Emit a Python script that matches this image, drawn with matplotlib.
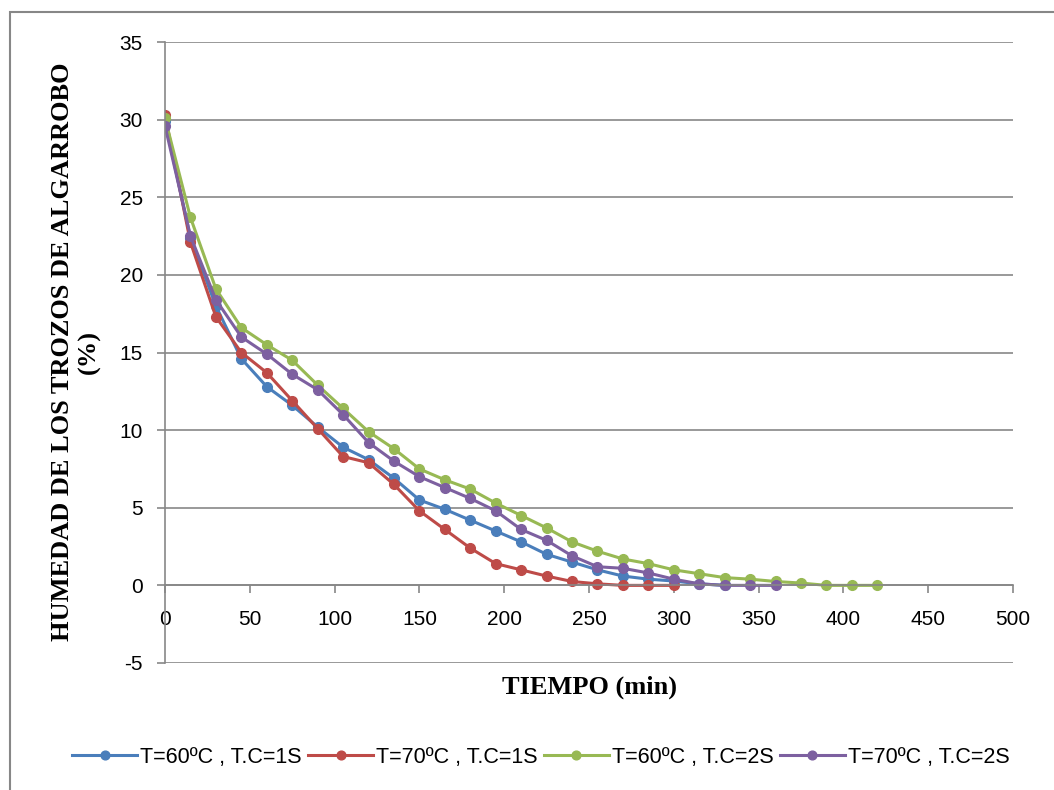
import numpy as np
import matplotlib.pyplot as plt
from matplotlib.patches import Rectangle

plt.rcParams['axes.unicode_minus'] = False

# tiempo (min), every 15 min
t_blue = np.arange(0, 331, 15)
blue = [29.9, 22.4, 18.0, 14.6, 12.8, 11.6, 10.2, 8.9, 8.1, 6.9, 5.5, 4.9,
        4.2, 3.5, 2.8, 2.0, 1.5, 1.0, 0.6, 0.4, 0.28, 0.1, 0.0]
t_red = np.arange(0, 301, 15)
red = [30.3, 22.1, 17.3, 15.0, 13.7, 11.9, 10.1, 8.3, 7.9, 6.5, 4.8, 3.6,
       2.4, 1.4, 1.0, 0.6, 0.25, 0.1, 0.0, 0.0, 0.0]
t_green = np.arange(0, 421, 15)
green = [30.1, 23.7, 19.1, 16.6, 15.5, 14.5, 12.9, 11.4, 9.9, 8.8, 7.5, 6.8,
         6.2, 5.3, 4.5, 3.7, 2.8, 2.2, 1.7, 1.4, 1.0, 0.75, 0.5, 0.4, 0.25,
         0.15, 0.0, 0.0, 0.0]
t_purple = np.arange(0, 361, 15)
purple = [29.6, 22.5, 18.4, 16.0, 14.9, 13.6, 12.6, 11.0, 9.2, 8.0, 7.0, 6.3,
          5.6, 4.8, 3.6, 2.9, 1.9, 1.2, 1.1, 0.8, 0.4, 0.1, 0.0, 0.0, 0.0]

series = [
    (t_blue, blue, '#4a7ebb', 'T=60ºC , T.C=1S'),
    (t_red, red, '#be4b48', 'T=70ºC , T.C=1S'),
    (t_green, green, '#98b954', 'T=60ºC , T.C=2S'),
    (t_purple, purple, '#7d60a0', 'T=70ºC , T.C=2S'),
]

fig = plt.figure(figsize=(10.54, 7.9), dpi=100)
ax = fig.add_axes([165/1054, 1 - 663/790, (1013-165)/1054, (663-42)/790])

for t, y, c, lab in series:
    ax.plot(t, y, color=c, lw=2.2, marker='o', ms=7, label=lab)

ax.set_xlim(0, 500)
ax.set_ylim(-5, 35)
ax.set_xticks(range(0, 501, 50))
ax.set_yticks(range(-5, 36, 5))
ax.yaxis.grid(True, color='#878787', lw=1.2)
ax.set_axisbelow(True)

for s in ['top', 'right']:
    ax.spines[s].set_visible(False)
ax.spines['bottom'].set_position(('data', 0))
ax.spines['left'].set_color('#878787')
ax.spines['bottom'].set_color('#878787')
ax.spines['left'].set_linewidth(1.2)
ax.spines['bottom'].set_linewidth(1.2)
ax.tick_params(axis='both', colors='#878787', length=6, width=1.2,
               labelcolor='black', labelsize=15)
ax.tick_params(axis='x', pad=12)
ax.tick_params(axis='y', pad=10)
for lbl in ax.get_xticklabels() + ax.get_yticklabels():
    lbl.set_fontfamily('Liberation Sans')

fig.text(589/1054, 1 - 687/790, 'TIEMPO (min)', ha='center', va='center',
         family='Liberation Serif', weight='bold', fontsize=19)
fig.text(76/1054, 1 - 352/790, 'HUMEDAD DE LOS TROZOS DE ALGARROBO\n(%)',
         ha='center', va='center', rotation=90, family='Liberation Serif',
         weight='bold', fontsize=19, linespacing=1.2)

fig.legend(loc='center', bbox_to_anchor=(541/1054, 1 - 757/790), ncol=4,
           frameon=False, handlelength=3.0, handletextpad=0.15,
           columnspacing=0.3, markerscale=0.9,
           prop={'family': 'Liberation Sans', 'size': 15.5})

fig.patches.append(Rectangle((10/1054, -0.01), 1.0, 1 - 12/790 + 0.01,
                             transform=fig.transFigure, fill=False,
                             edgecolor='#878787', lw=1.5))

fig.savefig('out.png', dpi=100)
